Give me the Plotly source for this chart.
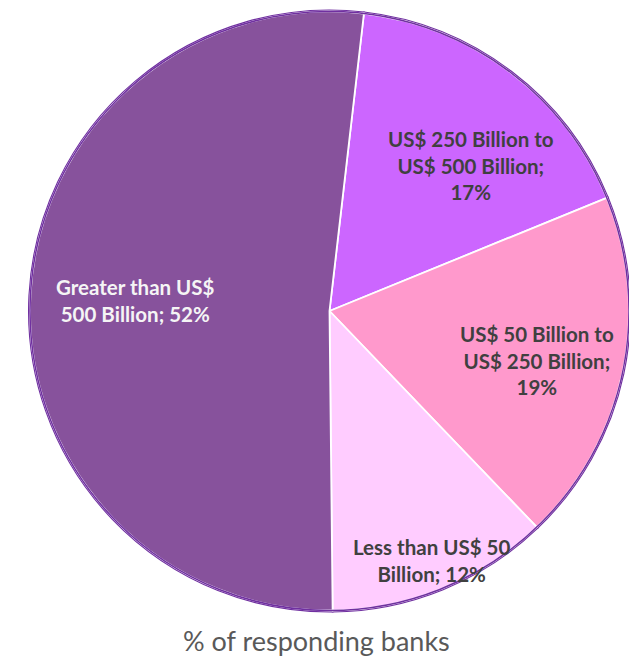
import plotly.graph_objects as go

# Survey data: asset size of responding banks
categories = [
    "US$ 250 Billion to US$ 500 Billion",
    "US$ 50 Billion to US$ 250 Billion",
    "Less than US$ 50 Billion",
    "Greater than US$ 500 Billion",
]
shares = [17, 19, 12, 52]

# Wrapped label text (same categories, broken over lines) and the separator before the value
wrapped = [
    "US$ 250 Billion to<br>US$ 500 Billion",
    "US$ 50 Billion to<br>US$ 250 Billion",
    "Less than US$ 50<br>Billion",
    "Greater than US$<br>500 Billion",
]
value_sep = ["<br>", "<br>", " ", " "]

colors = ["#CC66FF", "#FF99CC", "#FFCCFF", "#87529C"]
text_colors = ["#404040", "#404040", "#404040", "#F5F5F5"]
label_pos_px = [(471, 165), (537, 360), (431, 560), (135, 300)]

W, H = 629, 657
cx, cy, r = 330, 311, 300
dom_x = [(cx - r) / W, min(1.0, (cx + r) / W)]
dom_y = [(H - (cy + r)) / H, (H - (cy - r)) / H]

common = dict(
    labels=categories, values=shares, sort=False, direction="clockwise",
    rotation=6.6, textinfo="none", hoverinfo="label+percent",
    domain=dict(x=dom_x, y=dom_y),
)

fig = go.Figure()
# purple slice outlines
fig.add_trace(go.Pie(marker=dict(colors=colors, line=dict(color="#7030A0", width=4)), **common))
# white gap between neighbouring slices
fig.add_trace(go.Pie(marker=dict(colors=colors, line=dict(color="#FFFFFF", width=1.8)), **common))
# outer rim redrawn in purple
fig.add_trace(go.Pie(
    values=[1], labels=[""], sort=False, textinfo="none", hoverinfo="skip",
    marker=dict(colors=["rgba(0,0,0,0)"], line=dict(color="#7030A0", width=1.5)),
    domain=dict(x=dom_x, y=dom_y),
))

annotations = []
for name, val, sep, col, (px, py) in zip(wrapped, shares, value_sep, text_colors, label_pos_px):
    annotations.append(dict(
        text=f"{name};{sep}{val}%", x=px / W, y=1 - py / H, xref="paper", yref="paper",
        xanchor="center", yanchor="middle", showarrow=False, align="center",
        font=dict(family="Lato", size=20.5, color=col, weight="bold"),
    ))
annotations.append(dict(
    text="% of responding banks", x=317 / W, y=1 - 640 / H, xref="paper", yref="paper",
    xanchor="center", yanchor="middle", showarrow=False,
    font=dict(family="Lato", size=27, color="#595959"),
))

fig.update_layout(
    width=W, height=H, margin=dict(l=0, r=0, t=0, b=0),
    paper_bgcolor="white", plot_bgcolor="white", showlegend=False,
    annotations=annotations,
)

fig.write_html("out.html")
